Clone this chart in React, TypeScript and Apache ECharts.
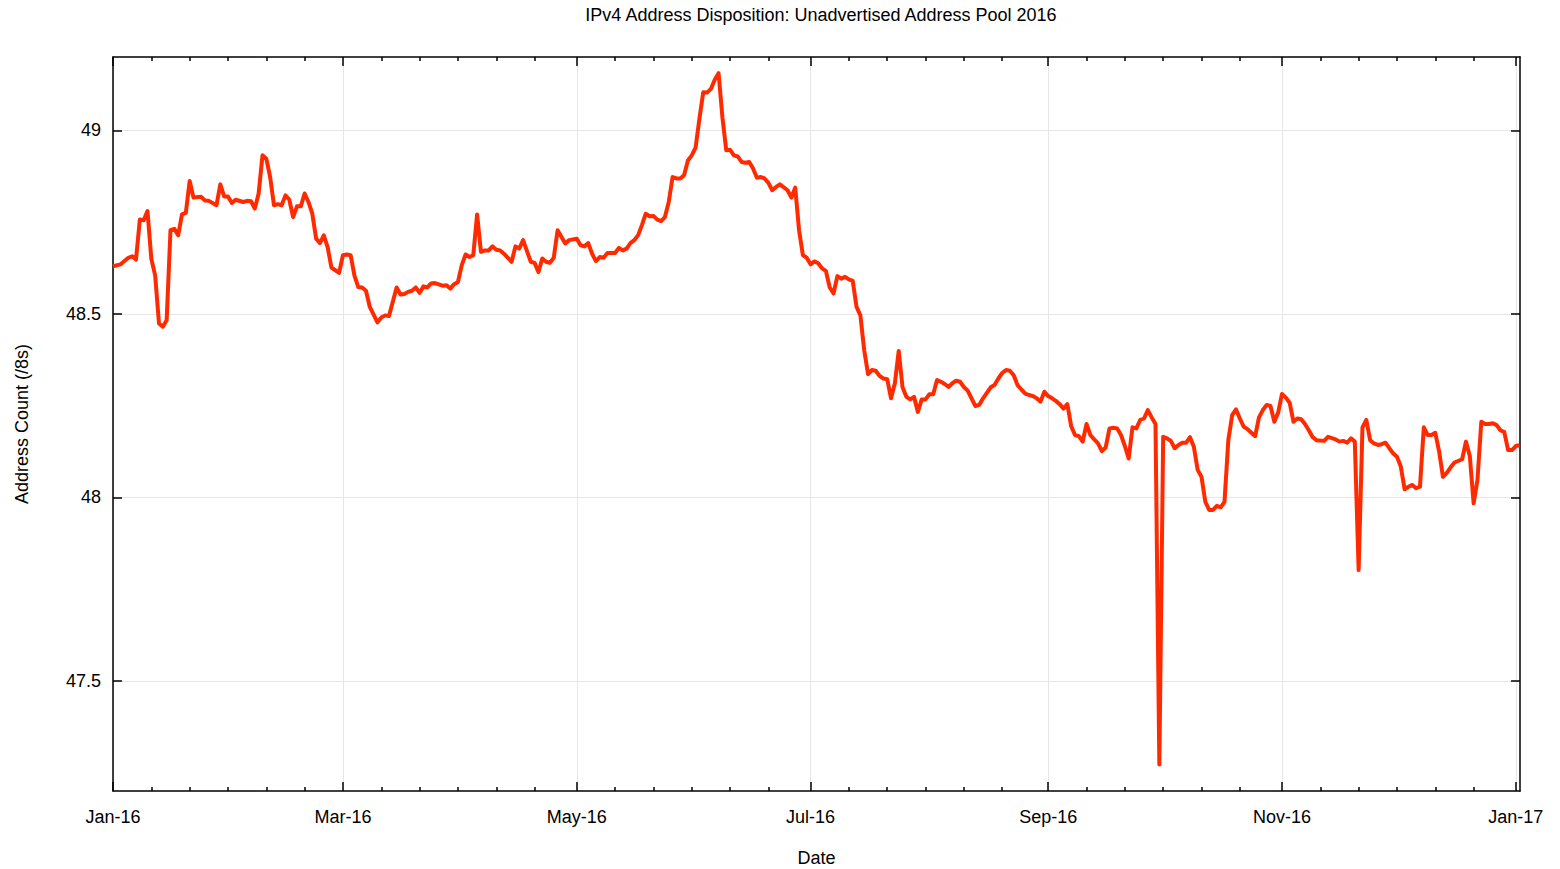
import React, { useEffect, useRef } from 'react';
import * as echarts from 'echarts';

// Day offsets from 2016-01-01 and unadvertised pool size (/8s)
const days = [
  0, 2, 4, 5, 6, 7, 8, 9, 10, 11, 12, 13, 14, 15, 16, 17, 18, 19, 20, 21, 23, 24, 25, 27, 28, 29, 30, 31, 32, 34,
  35, 36, 37, 38, 39, 40, 41, 42, 43, 44, 45, 46, 47, 48, 49, 50, 51, 52, 53, 54, 55, 56, 57, 58, 59, 60, 61, 62, 63, 64,
  65, 66, 67, 69, 70, 71, 72, 74, 75, 76, 77, 78, 79, 80, 81, 82, 83, 84, 86, 87, 88, 89, 90, 91, 92, 93, 94, 95, 96, 97,
  98, 99, 100, 101, 102, 104, 105, 106, 107, 109, 110, 111, 112, 113, 114, 115, 116, 118, 119, 121, 122, 123, 124, 125, 126, 127, 128, 129, 131, 132,
  133, 134, 135, 136, 137, 138, 139, 140, 141, 142, 143, 144, 145, 146, 147, 148, 149, 150, 151, 152, 153, 154, 155, 156, 157, 158, 159, 160, 161, 162,
  163, 164, 165, 166, 167, 168, 169, 170, 171, 172, 173, 174, 176, 177, 178, 179, 180, 181, 182, 183, 184, 185, 186, 187, 188, 189, 190, 191, 192, 193,
  194, 195, 196, 197, 198, 199, 200, 201, 202, 203, 204, 205, 206, 207, 208, 209, 210, 211, 212, 213, 214, 215, 216, 217, 218, 219, 220, 221, 222, 223,
  224, 225, 226, 227, 228, 229, 230, 231, 232, 233, 234, 235, 236, 237, 238, 239, 240, 241, 242, 243, 244, 245, 246, 247, 248, 249, 250, 251, 252, 253,
  254, 255, 256, 257, 258, 259, 260, 261, 262, 263, 264, 265, 266, 267, 268, 269, 270, 271, 272, 273, 274, 275, 276, 277, 278, 279, 280, 281, 282, 283,
  284, 285, 286, 287, 288, 289, 290, 291, 292, 293, 294, 295, 296, 297, 298, 299, 300, 301, 302, 303, 304, 305, 306, 307, 308, 309, 310, 311, 312, 313,
  314, 316, 317, 319, 320, 321, 322, 323, 324, 325, 326, 327, 328, 329, 330, 331, 332, 333, 334, 335, 336, 337, 338, 339, 340, 341, 342, 343, 344, 345,
  346, 347, 348, 349, 350, 352, 353, 354, 355, 356, 357, 358, 359, 360, 361, 362, 363, 364, 365, 366, 367,
];

const values = [
  48.63, 48.635, 48.653, 48.657, 48.648, 48.757, 48.755, 48.78, 48.65, 48.605, 48.474, 48.465, 48.483, 48.728, 48.732, 48.714, 48.771, 48.775, 48.862, 48.817, 48.819, 48.809, 48.808, 48.796, 48.853, 48.82, 48.82, 48.802, 48.811, 48.805,
  48.808, 48.807, 48.787, 48.828, 48.932, 48.923, 48.873, 48.796, 48.799, 48.796, 48.823, 48.811, 48.764, 48.793, 48.793, 48.828, 48.805, 48.773, 48.705, 48.693, 48.714, 48.682, 48.626, 48.619, 48.612, 48.66, 48.662, 48.66, 48.604, 48.573,
  48.572, 48.563, 48.519, 48.477, 48.49, 48.496, 48.494, 48.572, 48.553, 48.554, 48.56, 48.563, 48.572, 48.557, 48.575, 48.572, 48.583, 48.584, 48.577, 48.578, 48.569, 48.581, 48.587, 48.633, 48.662, 48.655, 48.66, 48.771, 48.669, 48.673,
  48.673, 48.684, 48.675, 48.673, 48.664, 48.642, 48.684, 48.678, 48.701, 48.642, 48.639, 48.614, 48.651, 48.642, 48.639, 48.653, 48.728, 48.692, 48.701, 48.705, 48.687, 48.684, 48.693, 48.664, 48.644, 48.655, 48.653, 48.666, 48.666, 48.68,
  48.673, 48.678, 48.693, 48.701, 48.714, 48.742, 48.773, 48.766, 48.767, 48.757, 48.753, 48.764, 48.805, 48.873, 48.869, 48.869, 48.878, 48.918, 48.932, 48.953, 49.032, 49.104, 49.103, 49.113, 49.138, 49.156, 49.036, 48.946, 48.947, 48.932,
  48.929, 48.914, 48.912, 48.914, 48.896, 48.871, 48.873, 48.869, 48.857, 48.837, 48.846, 48.853, 48.837, 48.817, 48.844, 48.728, 48.66, 48.653, 48.635, 48.643, 48.638, 48.624, 48.617, 48.572, 48.556, 48.603, 48.596, 48.601, 48.594, 48.59,
  48.519, 48.496, 48.401, 48.336, 48.347, 48.345, 48.331, 48.324, 48.322, 48.27, 48.311, 48.399, 48.3, 48.274, 48.267, 48.274, 48.233, 48.267, 48.267, 48.281, 48.281, 48.32, 48.315, 48.309, 48.301, 48.311, 48.318, 48.315, 48.301, 48.291,
  48.27, 48.249, 48.252, 48.27, 48.285, 48.3, 48.306, 48.324, 48.339, 48.347, 48.345, 48.333, 48.306, 48.294, 48.283, 48.279, 48.276, 48.27, 48.261, 48.288, 48.276, 48.27, 48.263, 48.254, 48.242, 48.254, 48.194, 48.17, 48.167, 48.152,
  48.2, 48.17, 48.158, 48.147, 48.126, 48.136, 48.188, 48.19, 48.188, 48.17, 48.14, 48.106, 48.191, 48.188, 48.211, 48.215, 48.238, 48.218, 48.2, 47.272, 48.165, 48.161, 48.154, 48.134, 48.143, 48.149, 48.149, 48.164, 48.138, 48.075,
  48.056, 47.988, 47.966, 47.966, 47.977, 47.973, 47.988, 48.156, 48.224, 48.24, 48.215, 48.193, 48.186, 48.176, 48.167, 48.218, 48.238, 48.252, 48.249, 48.206, 48.231, 48.282, 48.272, 48.258, 48.206, 48.215, 48.213, 48.2, 48.183, 48.164,
  48.156, 48.154, 48.165, 48.158, 48.152, 48.154, 48.149, 48.161, 48.152, 47.802, 48.191, 48.211, 48.156, 48.147, 48.143, 48.145, 48.149, 48.134, 48.12, 48.111, 48.084, 48.022, 48.029, 48.034, 48.025, 48.029, 48.191, 48.17, 48.17, 48.176,
  48.125, 48.056, 48.067, 48.082, 48.095, 48.104, 48.152, 48.113, 47.984, 48.047, 48.206, 48.2, 48.2, 48.202, 48.197, 48.183, 48.178, 48.129, 48.129, 48.14, 48.142,
];

const majorDays = [0, 60, 121, 182, 244, 305, 366];
const majorLabels = ['Jan-16', 'Mar-16', 'May-16', 'Jul-16', 'Sep-16', 'Nov-16', 'Jan-17'];
const minorOffsets = [10, 20, 30, 40, 50];
const yTicks = [47.5, 48, 48.5, 49];

const X_MIN = 0;
const X_MAX = 367.1;
const Y_MIN = 47.2;
const Y_MAX = 49.2;

const FONT = '"Liberation Sans", Arial, Helvetica, sans-serif';

export default function App() {
  const ref = useRef<HTMLDivElement>(null);

  useEffect(() => {
    if (!ref.current) return;
    const chart = echarts.init(ref.current, null, { renderer: 'svg' });

    const minorDays: number[] = [];
    for (let i = 0; i < majorDays.length - 1; i++) {
      minorOffsets.forEach((o) => minorDays.push(majorDays[i] + o));
    }

    const axisLine = { show: true, onZero: false, lineStyle: { color: '#000', width: 1.5 } };
    const tickStyle = { color: '#000', width: 1.5 };
    const gridRect: any = { left: 113, right: 40, top: 57, bottom: 78, containLabel: false, outerBoundsMode: 'none' };
    const nameStyle = { fontSize: 18, color: '#000', fontFamily: FONT };

    const option: any = {
      animation: false,
      backgroundColor: '#fff',
      title: {
        text: 'IPv4 Address Disposition: Unadvertised Address Pool 2016',
        left: 816,
        top: 1,
        textAlign: 'center',
        textStyle: { fontSize: 18, fontWeight: 'normal', color: '#000', fontFamily: FONT },
      },
      grid: [{ ...gridRect }, { ...gridRect }],
      xAxis: [
        {
          gridIndex: 0,
          type: 'value',
          position: 'bottom',
          min: X_MIN,
          max: X_MAX,
          axisLine,
          axisTick: { show: true, inside: true, length: 9, customValues: majorDays, lineStyle: tickStyle },
          axisLabel: {
            show: true,
            customValues: majorDays,
            formatter: (v: number) => {
              const i = majorDays.indexOf(Math.round(v));
              return i >= 0 ? majorLabels[i] : '';
            },
            margin: 17,
            fontSize: 18,
            color: '#000',
            fontFamily: FONT,
          },
          splitLine: { show: true, lineStyle: { color: '#e6e6e6', width: 1 } },
          name: 'Date',
          nameLocation: 'middle',
          nameGap: 58,
          nameTextStyle: nameStyle,
        },
        {
          gridIndex: 0,
          type: 'value',
          position: 'top',
          min: X_MIN,
          max: X_MAX,
          axisLine,
          axisTick: { show: true, inside: true, length: 9, customValues: majorDays, lineStyle: tickStyle },
          axisLabel: { show: false },
          splitLine: { show: false },
        },
        {
          gridIndex: 1,
          type: 'value',
          position: 'bottom',
          min: X_MIN,
          max: X_MAX,
          axisLine: { show: false },
          axisTick: { show: true, inside: true, length: 4, customValues: minorDays, lineStyle: tickStyle },
          axisLabel: { show: false },
          splitLine: { show: false },
        },
        {
          gridIndex: 1,
          type: 'value',
          position: 'top',
          min: X_MIN,
          max: X_MAX,
          axisLine: { show: false },
          axisTick: { show: true, inside: true, length: 4, customValues: minorDays, lineStyle: tickStyle },
          axisLabel: { show: false },
          splitLine: { show: false },
        },
      ],
      yAxis: [
        {
          gridIndex: 0,
          type: 'value',
          position: 'left',
          min: Y_MIN,
          max: Y_MAX,
          axisLine,
          axisTick: { show: true, inside: true, length: 9, customValues: yTicks, lineStyle: tickStyle },
          axisLabel: { show: true, customValues: yTicks, margin: 12, fontSize: 18, color: '#000', fontFamily: FONT },
          splitLine: { show: true, lineStyle: { color: '#e6e6e6', width: 1 } },
          name: 'Address Count (/8s)',
          nameLocation: 'middle',
          nameGap: 82,
          nameTextStyle: nameStyle,
        },
        {
          gridIndex: 0,
          type: 'value',
          position: 'right',
          min: Y_MIN,
          max: Y_MAX,
          axisLine,
          axisTick: { show: true, inside: true, length: 9, customValues: yTicks, lineStyle: tickStyle },
          axisLabel: { show: false },
          splitLine: { show: false },
        },
        {
          gridIndex: 1,
          type: 'value',
          min: Y_MIN,
          max: Y_MAX,
          show: false,
        },
      ],
      series: [
        {
          type: 'line',
          xAxisIndex: 0,
          yAxisIndex: 0,
          data: days.map((d, i) => [d, values[i]]),
          symbol: 'none',
          showSymbol: false,
          clip: true,
          z: 5,
          lineStyle: { color: '#ff2a00', width: 4, join: 'round' },
          itemStyle: { color: '#ff2a00' },
        },
      ],
    };

    chart.setOption(option);
    return () => chart.dispose();
  }, []);

  return (
    <div
      ref={ref}
      style={{ position: 'fixed', left: 0, top: 0, width: 1560, height: 869, background: '#fff' }}
    />
  );
}
